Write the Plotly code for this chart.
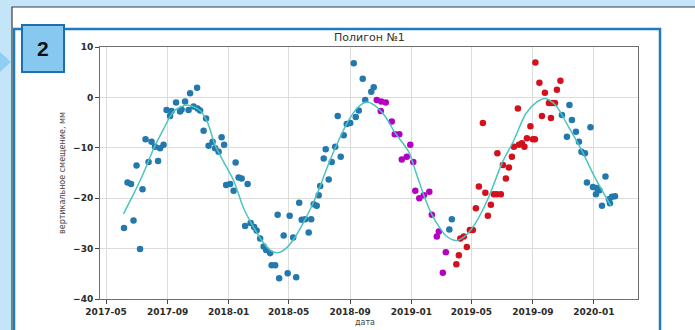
import plotly.graph_objects as go

# --- data -------------------------------------------------------------
blue_dates = [
    "2017-06-06", "2017-06-25", "2017-07-08", "2017-06-13", "2017-06-20", "2017-07-01",
    "2017-07-13", "2017-07-19", "2017-07-31", "2017-07-25", "2017-08-07", "2017-08-13",
    "2017-08-17", "2017-08-24", "2017-08-30", "2017-09-06", "2017-09-09", "2017-09-18",
    "2017-09-26", "2017-09-29", "2017-10-06", "2017-10-13", "2017-10-16", "2017-10-30",
    "2017-10-23", "2017-10-31", "2017-11-05", "2017-11-17", "2017-11-12", "2017-11-22",
    "2017-11-30", "2017-12-05", "2017-12-12", "2017-12-18", "2017-12-23", "2018-01-15",
    "2017-12-27", "2018-01-04", "2018-01-11", "2018-01-21", "2018-01-27", "2018-02-08",
    "2018-02-03", "2018-02-14", "2018-02-21", "2018-02-26", "2018-03-05", "2018-03-12",
    "2018-03-17", "2018-03-25", "2018-03-28", "2018-04-04", "2018-04-09", "2018-04-12",
    "2018-04-21", "2018-04-29", "2018-05-03", "2018-05-10", "2018-05-16", "2018-05-22",
    "2018-05-27", "2018-06-03", "2018-06-10", "2018-06-15", "2018-06-20", "2018-06-26",
    "2018-06-30", "2018-07-03", "2018-07-20", "2018-07-10", "2018-07-14", "2018-07-26",
    "2018-08-02", "2018-08-13", "2018-08-19", "2018-08-07", "2018-08-25", "2018-09-01",
    "2018-09-08", "2018-09-12", "2018-09-18", "2018-09-26", "2018-10-01", "2018-10-13",
    "2018-10-18",
    "2019-03-18", "2019-03-23",
    "2019-10-29", "2019-11-13", "2019-11-08", "2019-11-18", "2019-11-26", "2019-12-02",
    "2019-12-07", "2019-12-14", "2019-12-25", "2019-12-18", "2019-12-30", "2020-01-07",
    "2020-01-12", "2020-01-05", "2020-01-24", "2020-01-17", "2020-01-31", "2020-02-06",
    "2020-02-12", "2020-02-02",
]
blue_vals = [
    -25.9, -24.4, -30.1, -16.9, -17.2, -13.5,
    -18.2, -8.3, -8.8, -12.8, -9.8, -12.6,
    -10.1, -9.4, -2.5, -3.7, -2.7, -1.0,
    -2.8, -2.4, -0.8, -2.5, 0.8, 1.9,
    -1.8, -2.2, -2.6, -4.2, -6.6, -9.6,
    -8.8, -10.1, -10.8, -7.9, -9.4, -12.9,
    -17.4, -17.2, -18.5, -15.9, -16.1, -17.2,
    -25.5, -24.9, -25.7, -26.4, -28.0, -29.6,
    -30.3, -30.9, -33.3, -33.3, -23.3, -35.9,
    -27.4, -34.9, -23.5, -27.8, -35.7, -20.9,
    -24.3, -24.2, -26.8, -24.2, -21.2, -21.5,
    -19.4, -17.6, -16.3, -12.1, -10.3, -12.8,
    -9.8, -11.8, -7.5, -3.7, -5.3, -5.1,
    6.8, -3.9, -2.6, 3.7, -0.5, 1.1,
    2.0,
    -26.2, -24.2,
    -3.5, -1.5, -7.8, -4.5, -6.8, -8.8,
    -10.8, -11.1, -5.9, -16.9, -17.8, -18.0,
    -18.4, -19.2, -15.7, -21.5, -20.2, -19.7,
    -19.6, -21.0,
]

magenta_dates = [
    "2018-10-24", "2018-11-02", "2018-11-11", "2018-11-01", "2018-11-23", "2018-11-29",
    "2018-12-08", "2018-12-30", "2018-12-13", "2018-12-23", "2019-01-05", "2019-01-09",
    "2019-01-17", "2019-01-26", "2019-02-06", "2019-02-11", "2019-02-25", "2019-02-21",
    "2019-03-11", "2019-03-05",
]
magenta_vals = [
    -0.5, -0.8, -1.0, -2.7, -4.8, -7.3,
    -7.3, -9.4, -12.3, -11.8, -12.8, -18.5,
    -20.0, -19.4, -18.7, -23.3, -26.6, -27.6,
    -30.7, -34.8,
]

red_dates = [
    "2019-04-01", "2019-04-06", "2019-04-09", "2019-04-16", "2019-04-22", "2019-04-28",
    "2019-05-04", "2019-05-10", "2019-05-16", "2019-05-29", "2019-06-03", "2019-06-09",
    "2019-06-15", "2019-06-21", "2019-06-29", "2019-05-24", "2019-06-22", "2019-07-03",
    "2019-07-15", "2019-07-09", "2019-07-21", "2019-07-25", "2019-08-04", "2019-08-10",
    "2019-08-15", "2019-08-20", "2019-08-27", "2019-09-01", "2019-09-05", "2019-08-02",
    "2019-09-06", "2019-09-14", "2019-09-19", "2019-09-25", "2019-10-03", "2019-10-09",
    "2019-10-15", "2019-10-07", "2019-10-19", "2019-10-26",
]
red_vals = [
    -33.1, -31.3, -28.0, -27.6, -29.7, -26.3,
    -26.3, -22.0, -17.7, -18.9, -23.5, -21.3,
    -19.2, -19.2, -19.2, -5.1, -11.1, -13.4,
    -13.9, -16.1, -11.8, -9.8, -9.4, -9.1,
    -9.8, -8.1, -5.7, -8.3, -8.3, -2.2,
    6.9, 2.9, -3.7, 0.9, -1.1, -1.1,
    -1.1, -4.1, 1.5, 3.3,
]

# seasonal fit curve
fit_dates = [
    "2017-06-05", "2017-06-25", "2017-07-15", "2017-08-05", "2017-08-24", "2017-09-13",
    "2017-10-09", "2017-11-05", "2017-11-20", "2017-12-05", "2017-12-22", "2018-01-11",
    "2018-01-31", "2018-02-20", "2018-03-12", "2018-03-28", "2018-04-10", "2018-04-25",
    "2018-05-12", "2018-05-28", "2018-06-15", "2018-06-30", "2018-07-20", "2018-08-09",
    "2018-08-29", "2018-09-18", "2018-10-04", "2018-10-20", "2018-11-10", "2018-11-28",
    "2018-12-27", "2019-01-10", "2019-01-26", "2019-02-10", "2019-02-25", "2019-03-12",
    "2019-04-01", "2019-04-20", "2019-05-09", "2019-06-05", "2019-07-01", "2019-07-25",
    "2019-08-18", "2019-09-09", "2019-09-25", "2019-10-16", "2019-11-11", "2019-12-07",
    "2020-01-02", "2020-02-04",
]
fit_vals = [
    -23.1, -19.2, -15.0, -10.0, -6.3, -2.8,
    -1.5, -2.6, -5.0, -9.5, -12.8, -16.5,
    -22.0, -25.8, -28.9, -30.5, -30.8, -30.0,
    -28.0, -25.3, -21.8, -18.4, -13.1, -8.5,
    -4.5, -1.8, -0.9, -1.6, -3.8, -6.8,
    -10.8, -14.8, -19.4, -23.0, -25.6, -27.5,
    -28.4, -27.4, -25.0, -19.7, -13.1, -8.5,
    -3.2, -0.9, -0.2, -1.5, -5.8, -10.4,
    -15.7, -21.5,
]

x_tick_vals = ["2017-05-01", "2017-09-01", "2018-01-01", "2018-05-01", "2018-09-01",
               "2019-01-01", "2019-05-01", "2019-09-01", "2020-01-01"]
x_tick_text = ["2017-05", "2017-09", "2018-01", "2018-05", "2018-09",
               "2019-01", "2019-05", "2019-09", "2020-01"]
y_tick_vals = [-40, -30, -20, -10, 0, 10]
y_tick_text = ["\u221240", "\u221230", "\u221220", "\u221210", "0", "10"]

# --- layout geometry ---------------------------------------------------
W, H = 695, 330
ML, MR, MT, MB = 100, 57, 47, 31
PW, PH = W - ML - MR, H - MT - MB


def px(x):
    return (x - ML) / PW


def py(y):
    return (H - MB - y) / PH


FONT = "DejaVu Sans"
PT_BLUE = "#2378ad"
MSIZE = 6.5

fig = go.Figure()
fig.add_trace(go.Scatter(x=blue_dates, y=blue_vals, mode="markers",
                         marker=dict(color=PT_BLUE, size=MSIZE, line=dict(width=0)),
                         showlegend=False))
fig.add_trace(go.Scatter(x=magenta_dates, y=magenta_vals, mode="markers",
                         marker=dict(color="#b400c0", size=MSIZE, line=dict(width=0)),
                         showlegend=False))
fig.add_trace(go.Scatter(x=red_dates, y=red_vals, mode="markers",
                         marker=dict(color="#d4101c", size=MSIZE, line=dict(width=0)),
                         showlegend=False))
fig.add_trace(go.Scatter(x=fit_dates, y=fit_vals, mode="lines",
                         line=dict(color="#4cc4c0", width=1.5, shape="spline", smoothing=0.8),
                         showlegend=False))

axis_common = dict(
    showgrid=True, gridcolor="#dcdcdc", gridwidth=1,
    showline=True, mirror=True, linecolor="#6e6e6e", linewidth=1,
    ticks="outside", ticklen=4, tickcolor="#444", tickwidth=1,
    tickfont=dict(family=FONT, size=9, color="#2a2a2a", weight="bold"),
    zeroline=False,
)

fig.update_layout(
    width=W, height=H,
    margin=dict(l=ML, r=MR, t=MT, b=MB, pad=0),
    paper_bgcolor="#c4e4f8",
    plot_bgcolor="#ffffff",
    xaxis=dict(type="date", range=["2017-04-19", "2020-03-29"],
               tickmode="array", tickvals=x_tick_vals, ticktext=x_tick_text,
               **axis_common),
    yaxis=dict(range=[-40, 10], tickmode="array", tickvals=y_tick_vals,
               ticktext=y_tick_text, **axis_common),
    shapes=[
        # outer white sheet
        dict(type="rect", xref="paper", yref="paper", layer="below",
             x0=px(12), x1=px(705), y0=py(7), y1=py(345),
             fillcolor="#ffffff", line=dict(color="#3c3c3c", width=1.2)),
        # blue panel frame
        dict(type="rect", xref="paper", yref="paper", layer="below",
             x0=px(14), x1=px(660), y0=py(29), y1=py(350),
             fillcolor="#ffffff", line=dict(color="#1f7bc1", width=2.5)),
        # pointer on the left edge
        dict(type="path", xref="paper", yref="paper", layer="above",
             path="M {} {} L {} {} L {} {} Z".format(px(0), py(52), px(11), py(62), px(0), py(72)),
             fillcolor="#8fcdf2", line=dict(width=0)),
        # number badge
        dict(type="rect", xref="paper", yref="paper", layer="above",
             x0=px(22), x1=px(64), y0=py(25), y1=py(72),
             fillcolor="#86c8f0", line=dict(color="#1e6fae", width=2)),
    ],
    annotations=[
        dict(text="2", xref="paper", yref="paper", x=px(43), y=py(48.5),
             showarrow=False, xanchor="center", yanchor="middle",
             font=dict(family="Liberation Sans", size=21, color="#111", weight="bold")),
        dict(text="Полигон №1", xref="paper", yref="paper", x=0.5, y=py(38),
             showarrow=False, xanchor="center", yanchor="middle",
             font=dict(family=FONT, size=11, color="#333")),
        dict(text="дата", xref="paper", yref="paper", x=px(365), y=py(322),
             showarrow=False, xanchor="center", yanchor="middle",
             font=dict(family=FONT, size=8, color="#444")),
        dict(text="вертикальное смещение, мм", xref="paper", yref="paper",
             x=px(62), y=py(173), textangle=-90,
             showarrow=False, xanchor="center", yanchor="middle",
             font=dict(family=FONT, size=8, color="#444")),
    ],
)

fig.write_html("out.html")
